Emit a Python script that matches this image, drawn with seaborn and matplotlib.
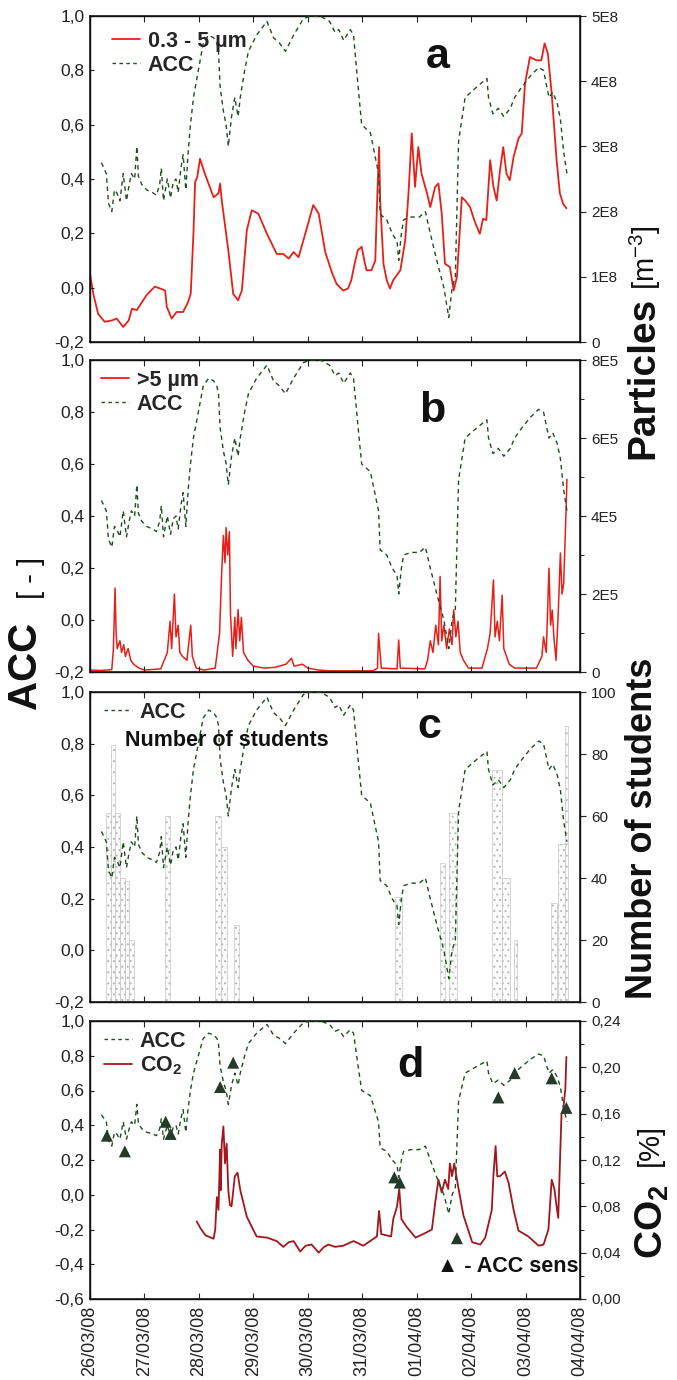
import numpy as np
import pandas as pd
import matplotlib
matplotlib.use("Agg")
import matplotlib.pyplot as plt
from matplotlib.lines import Line2D
from matplotlib.ticker import FixedLocator, FuncFormatter, MultipleLocator
import seaborn as sns

# ---------------- data (x in days since 26/03/08 00:00) ----------------
date_labels = ["26/03/08", "27/03/08", "28/03/08", "29/03/08", "30/03/08",
               "31/03/08", "01/04/08", "02/04/08", "03/04/08", "04/04/08"]

acc_day = [0.21, 0.30, 0.34, 0.40, 0.45, 0.49, 0.55, 0.61, 0.67, 0.72, 0.76, 0.82, 0.86, 0.89,
           0.95, 1.04, 1.15, 1.22, 1.28, 1.31, 1.35, 1.42, 1.48, 1.53, 1.58, 1.62, 1.67, 1.71,
           1.76, 1.80, 1.84, 1.90, 1.99, 2.08, 2.18, 2.27, 2.33, 2.36, 2.39, 2.45, 2.50, 2.54,
           2.60, 2.66, 2.72, 2.76, 2.84, 2.91, 3.06, 3.25, 3.37, 3.48, 3.59, 3.74, 3.92, 4.05,
           4.23, 4.40, 4.50, 4.57, 4.66, 4.72, 4.78, 4.84, 4.92, 4.99, 5.15, 5.24, 5.30, 5.33,
           5.45, 5.55, 5.64, 5.67, 5.72, 5.76, 5.90, 6.05, 6.16, 6.25, 6.37, 6.50, 6.59, 6.65,
           6.71, 6.77, 6.89, 7.00, 7.11, 7.29, 7.32, 7.40, 7.50, 7.60, 7.72, 7.80, 7.90, 8.09,
           8.24, 8.33, 8.43, 8.50, 8.58, 8.64, 8.70, 8.76]
acc_val = [0.46, 0.42, 0.31, 0.28, 0.36, 0.35, 0.32, 0.42, 0.32, 0.38, 0.42, 0.40, 0.52, 0.41,
           0.38, 0.36, 0.35, 0.34, 0.38, 0.44, 0.32, 0.40, 0.33, 0.39, 0.40, 0.35, 0.44, 0.49,
           0.36, 0.49, 0.59, 0.70, 0.80, 0.90, 0.93, 0.92, 0.90, 0.87, 0.74, 0.65, 0.60, 0.52,
           0.63, 0.70, 0.63, 0.70, 0.80, 0.87, 0.93, 0.98, 0.92, 0.90, 0.87, 0.93, 0.99, 1.00,
           1.00, 0.98, 0.94, 0.95, 0.91, 0.93, 0.95, 0.93, 0.75, 0.60, 0.57, 0.48, 0.42, 0.27,
           0.25, 0.20, 0.17, 0.10, 0.20, 0.25, 0.26, 0.26, 0.28, 0.20, 0.10, 0.00, -0.11, 0.00,
           0.04, 0.54, 0.70, 0.72, 0.74, 0.77, 0.70, 0.64, 0.66, 0.63, 0.66, 0.70, 0.73, 0.78,
           0.81, 0.80, 0.70, 0.72, 0.68, 0.62, 0.50, 0.42]

# particles 0.3 - 5 um  [1E8 m^-3]
pm_fine_day = [0.00, 0.06, 0.15, 0.27, 0.40, 0.49, 0.61, 0.71, 0.77, 0.86, 1.04, 1.19, 1.29, 1.38,
               1.41, 1.50, 1.59, 1.71, 1.80, 1.85, 1.90, 1.93, 1.97, 2.02, 2.11, 2.27, 2.36, 2.39,
               2.42, 2.54, 2.63, 2.72, 2.79, 2.88, 2.97, 3.09, 3.25, 3.43, 3.55, 3.65, 3.74, 3.83,
               3.92, 4.10, 4.20, 4.32, 4.45, 4.53, 4.65, 4.74, 4.80, 4.86, 4.92, 4.99, 5.05, 5.08,
               5.17, 5.24, 5.27, 5.31, 5.33, 5.39, 5.45, 5.51, 5.57, 5.70, 5.79, 5.85, 5.91, 5.97,
               6.03, 6.09, 6.19, 6.25, 6.34, 6.40, 6.46, 6.52, 6.61, 6.68, 6.74, 6.83, 6.89, 6.98,
               7.07, 7.16, 7.22, 7.28, 7.35, 7.41, 7.47, 7.53, 7.59, 7.65, 7.71, 7.78, 7.87, 7.93,
               7.99, 8.08, 8.20, 8.29, 8.35, 8.41, 8.48, 8.57, 8.63, 8.69, 8.75]
pm_fine_val = [1.05, 0.74, 0.43, 0.31, 0.33, 0.36, 0.23, 0.33, 0.51, 0.49, 0.72, 0.85, 0.82, 0.79,
               0.54, 0.36, 0.46, 0.46, 0.61, 0.74, 1.66, 2.45, 2.53, 2.81, 2.58, 2.22, 2.28, 2.43,
               2.17, 1.41, 0.74, 0.64, 0.79, 1.71, 2.02, 1.97, 1.66, 1.35, 1.35, 1.28, 1.38, 1.30,
               1.56, 2.10, 1.97, 1.38, 1.05, 0.89, 0.79, 0.82, 0.95, 1.20, 1.41, 1.46, 1.20, 1.10,
               1.10, 1.25, 2.07, 2.99, 2.17, 1.20, 0.95, 0.82, 0.95, 1.10, 1.56, 2.28, 3.20, 2.38,
               2.99, 2.58, 2.28, 2.07, 2.38, 2.43, 1.97, 1.20, 1.15, 0.79, 1.00, 2.22, 2.17, 2.07,
               1.84, 1.66, 1.89, 1.87, 2.79, 2.38, 2.17, 2.63, 2.99, 2.58, 2.48, 2.84, 3.12, 3.20,
               3.96, 4.37, 4.32, 4.32, 4.58, 4.42, 3.81, 2.79, 2.28, 2.12, 2.05]

# particles > 5 um  [1E5 m^-3]
pm_coarse_day = [0.00, 0.20, 0.40, 0.43, 0.46, 0.48, 0.50, 0.55, 0.58, 0.62, 0.65, 0.70, 0.75, 0.80,
                 0.90, 1.00, 1.30, 1.42, 1.47, 1.50, 1.55, 1.58, 1.62, 1.65, 1.70, 1.78, 1.85, 1.88,
                 1.95, 2.10, 2.30, 2.38, 2.42, 2.45, 2.48, 2.50, 2.53, 2.56, 2.58, 2.62, 2.66, 2.68,
                 2.72, 2.75, 2.78, 2.82, 2.90, 3.00, 3.20, 3.40, 3.60, 3.70, 3.75, 3.90, 4.00, 4.20,
                 4.40, 5.20, 5.28, 5.30, 5.35, 5.64, 5.67, 5.70, 6.15, 6.20, 6.25, 6.30, 6.35, 6.40,
                 6.43, 6.46, 6.50, 6.55, 6.60, 6.65, 6.68, 6.72, 6.76, 6.80, 6.86, 6.95, 7.20, 7.30,
                 7.35, 7.41, 7.44, 7.48, 7.52, 7.57, 7.60, 7.65, 7.70, 7.80, 8.20, 8.30, 8.33, 8.38,
                 8.43, 8.46, 8.49, 8.52, 8.56, 8.60, 8.64, 8.67, 8.70, 8.73, 8.76]
pm_coarse_val = [0.05, 0.04, 0.06, 0.60, 2.15, 1.00, 0.60, 0.80, 0.50, 0.70, 0.40, 0.60, 0.30, 0.20,
                 0.10, 0.05, 0.08, 0.50, 1.30, 0.60, 2.00, 0.90, 1.20, 0.50, 0.40, 0.30, 1.20, 0.40,
                 0.10, 0.05, 0.10, 1.00, 2.60, 3.50, 2.80, 3.70, 3.00, 3.60, 1.50, 0.40, 1.40, 0.60,
                 1.60, 0.80, 1.40, 0.50, 0.30, 0.15, 0.10, 0.12, 0.20, 0.35, 0.15, 0.20, 0.10, 0.05,
                 0.03, 0.03, 0.10, 0.99, 0.10, 0.08, 0.82, 0.10, 0.08, 0.30, 0.80, 0.50, 1.20, 0.70,
                 2.45, 0.80, 1.20, 0.60, 1.10, 0.70, 1.59, 0.90, 1.30, 0.50, 0.30, 0.10, 0.10, 0.60,
                 1.00, 2.36, 0.90, 1.30, 0.80, 1.97, 0.60, 0.40, 0.20, 0.10, 0.10, 0.40, 0.90, 0.50,
                 2.66, 1.20, 1.59, 0.90, 0.30, 1.50, 3.05, 2.00, 2.27, 3.50, 4.94]

# number of students (class periods)
class_start = [0.30, 0.39, 0.46, 0.55, 0.65, 0.72, 1.38, 2.30, 2.40, 2.64, 5.61, 6.43, 6.59,
               7.38, 7.57, 7.78, 8.46, 8.59, 8.72]
class_end = [0.39, 0.46, 0.55, 0.65, 0.72, 0.80, 1.47, 2.40, 2.52, 2.73, 5.73, 6.52, 6.74,
             7.57, 7.72, 7.84, 8.58, 8.72, 8.78]
students = [61, 83, 61, 40, 39, 20, 60, 60, 50, 25, 34, 45, 61, 75, 40, 20, 32, 51, 89]

# CO2 [%]
co2_day = [1.96, 2.03, 2.12, 2.27, 2.30, 2.33, 2.36, 2.39, 2.40, 2.42, 2.45, 2.48, 2.51, 2.54,
           2.57, 2.60, 2.66, 2.71, 2.76, 2.88, 3.06, 3.25, 3.43, 3.55, 3.65, 3.74, 3.86, 3.96,
           4.07, 4.20, 4.30, 4.38, 4.50, 4.65, 4.84, 5.02, 5.27, 5.31, 5.35, 5.53, 5.57, 5.64,
           5.68, 5.72, 5.82, 5.98, 6.16, 6.28, 6.34, 6.40, 6.46, 6.52, 6.58, 6.61, 6.65, 6.69,
           6.77, 6.86, 7.02, 7.17, 7.26, 7.38, 7.41, 7.45, 7.48, 7.53, 7.62, 7.69, 7.78, 7.87,
           8.05, 8.24, 8.33, 8.42, 8.48, 8.53, 8.57, 8.60, 8.66, 8.69, 8.73, 8.75]
co2_val = [0.067, 0.061, 0.055, 0.052, 0.060, 0.088, 0.077, 0.129, 0.094, 0.134, 0.149, 0.117,
           0.134, 0.094, 0.081, 0.080, 0.106, 0.109, 0.094, 0.071, 0.054, 0.053, 0.050, 0.045,
           0.049, 0.050, 0.041, 0.046, 0.047, 0.040, 0.045, 0.047, 0.045, 0.046, 0.050, 0.046,
           0.054, 0.076, 0.056, 0.054, 0.069, 0.080, 0.095, 0.069, 0.062, 0.053, 0.057, 0.060,
           0.083, 0.103, 0.092, 0.103, 0.095, 0.117, 0.106, 0.117, 0.095, 0.072, 0.049, 0.047,
           0.053, 0.077, 0.107, 0.132, 0.106, 0.106, 0.110, 0.100, 0.077, 0.059, 0.054, 0.046,
           0.047, 0.060, 0.103, 0.095, 0.080, 0.070, 0.160, 0.163, 0.181, 0.209]

# ACC from sensors (triangles)
sens_day = [0.31, 0.64, 1.39, 1.48, 2.39, 2.63, 5.59, 5.69, 6.74, 7.50, 7.80, 8.48, 8.75]
sens_val = [0.34, 0.25, 0.42, 0.35, 0.62, 0.76, 0.10, 0.07, -0.25, 0.56, 0.70, 0.67, 0.50]

# ---------------- style ----------------
sns.set_theme(style="white")
plt.rcParams["font.family"] = ["Liberation Sans", "DejaVu Sans"]
plt.rcParams["mathtext.default"] = "regular"
plt.rcParams["hatch.linewidth"] = 0.7

W, H = 677, 1380
fig = plt.figure(figsize=(W / 100, H / 100), dpi=100)

ACC_C = "#1f4f1f"
RED = "#e62018"
CO2_C = "#a3161b"
ACC_DASH = (0, (3.2, 2.8))

def fx(px):
    return px / W

def fy(py):
    return 1 - py / H

L, R = 90, 580
panels = {"a": (16, 342), "b": (360, 672), "c": (692, 1002), "d": (1021, 1299)}

def comma(fmt):
    return FuncFormatter(lambda v, p: format(v, fmt).replace(".", ",").replace("\u2212", "-"))

def make_axes(key, ylim, yticks):
    top, bot = panels[key]
    ax = fig.add_axes([fx(L), fy(bot), fx(R - L), (bot - top) / H])
    ax.set_xlim(0, 9)
    ax.set_ylim(*ylim)
    ax.yaxis.set_major_locator(FixedLocator(yticks))
    ax.yaxis.set_major_formatter(comma(".1f"))
    ax.xaxis.set_major_locator(FixedLocator(range(10)))
    ax.tick_params(axis="y", labelsize=12.5, direction="in", length=3, width=0.8, pad=4,
                   left=True, colors="#222222")
    ax.tick_params(axis="x", direction="in", length=4, width=0.8, top=True, bottom=True)
    for s in ax.spines.values():
        s.set_color("#111111")
        s.set_linewidth(1.0)
    ax.set_xlabel("")
    ax.set_ylabel("")
    return ax

def add_twin(ax, ylim, yticks, fmt):
    tw = ax.twinx()
    tw.set_ylim(*ylim)
    tw.yaxis.set_major_locator(FixedLocator(yticks))
    tw.yaxis.set_major_formatter(fmt)
    tw.tick_params(axis="y", labelsize=11, direction="out", length=4, width=0.8, pad=4,
                   colors="#222222")
    tw.set_ylabel("")
    return tw

def draw_acc(ax):
    sns.lineplot(x=acc_day, y=acc_val, ax=ax, color=ACC_C, lw=1.0, linestyle=ACC_DASH,
                 estimator=None, sort=False, legend=False, zorder=4)

leg_font = {"weight": "bold", "size": 15.5}

def put_legend(ax, handles, labels, x, y):
    lg = ax.legend(handles, labels, loc="upper left", bbox_to_anchor=(fx(x), fy(y)),
                   bbox_transform=fig.transFigure, frameon=False, prop=leg_font,
                   handlelength=1.3, handletextpad=0.35, labelspacing=0.12,
                   borderpad=0, borderaxespad=0)
    return lg

acc_handle = Line2D([], [], color=ACC_C, lw=1.0, linestyle=(0, (2.5, 2.5)))

# ---------------- panel a ----------------
ax_a = make_axes("a", (-0.2, 1.0), np.arange(-0.2, 1.01, 0.2))
ax_a.tick_params(axis="x", labelbottom=False)
tw_a = add_twin(ax_a, (0, 5), [0, 1, 2, 3, 4, 5],
                FuncFormatter(lambda v, p: "0" if v == 0 else f"{int(round(v))}E8"))
sns.lineplot(x=pm_fine_day, y=pm_fine_val, ax=tw_a, color=RED, lw=1.3,
             estimator=None, sort=False, legend=False)
draw_acc(ax_a)
ax_a.set_zorder(tw_a.get_zorder() + 1)
ax_a.patch.set_visible(False)
put_legend(ax_a, [Line2D([], [], color=RED, lw=1.3), acc_handle],
           ["0.3 - 5 \u00b5m", "ACC"], 112, 31)

# ---------------- panel b ----------------
ax_b = make_axes("b", (-0.2, 1.0), np.arange(-0.2, 1.01, 0.2))
ax_b.tick_params(axis="x", labelbottom=False)
tw_b = add_twin(ax_b, (0, 8), [0, 2, 4, 6, 8],
                FuncFormatter(lambda v, p: "0" if v == 0 else f"{int(round(v))}E5"))
tw_b.yaxis.set_minor_locator(MultipleLocator(1))
tw_b.tick_params(axis="y", which="minor", direction="out", length=3, width=0.7)
sns.lineplot(x=pm_coarse_day, y=pm_coarse_val, ax=tw_b, color=RED, lw=1.1,
             estimator=None, sort=False, legend=False)
draw_acc(ax_b)
ax_b.set_zorder(tw_b.get_zorder() + 1)
ax_b.patch.set_visible(False)
put_legend(ax_b, [Line2D([], [], color=RED, lw=1.3), acc_handle],
           [">5 \u00b5m", "ACC"], 101, 370)

# ---------------- panel c ----------------
ax_c = make_axes("c", (-0.2, 1.0), np.arange(-0.2, 1.01, 0.2))
ax_c.tick_params(axis="x", labelbottom=False)
tw_c = add_twin(ax_c, (0, 100), [0, 20, 40, 60, 80, 100],
                FuncFormatter(lambda v, p: f"{int(round(v))}"))
widths = [e - s for s, e in zip(class_start, class_end)]
tw_c.bar(class_start, students, width=widths, align="edge", facecolor="#fbfbfb",
         edgecolor="#b8b8b8", hatch="...", linewidth=0.4)
draw_acc(ax_c)
ax_c.set_zorder(tw_c.get_zorder() + 1)
ax_c.patch.set_visible(False)
put_legend(ax_c, [Line2D([], [], color=ACC_C, lw=1.0, linestyle=(0, (2.5, 2.5)))],
           ["ACC"], 104, 702)
fig.text(fx(125), fy(740), "Number of students", ha="left", va="center",
         fontsize=15.5, fontweight="bold", color="#111111")

# ---------------- panel d ----------------
ax_d = make_axes("d", (-0.6, 1.0), np.arange(-0.6, 1.01, 0.2))
tw_d = add_twin(ax_d, (0, 0.24), [0, 0.04, 0.08, 0.12, 0.16, 0.20, 0.24], comma(".2f"))
tw_d.yaxis.set_minor_locator(MultipleLocator(0.02))
tw_d.tick_params(axis="y", which="minor", direction="out", length=3, width=0.7)
sns.lineplot(x=co2_day, y=co2_val, ax=tw_d, color=CO2_C, lw=1.3,
             estimator=None, sort=False, legend=False)
draw_acc(ax_d)
sns.scatterplot(x=sens_day, y=sens_val, ax=ax_d, marker="^", s=75, color="#263a2c",
                edgecolor="none", legend=False, zorder=6)
ax_d.set_zorder(tw_d.get_zorder() + 1)
ax_d.patch.set_visible(False)
ax_d.set_xticks(range(10))
ax_d.set_xticklabels(date_labels, rotation=90, fontsize=13, color="#222222")
ax_d.tick_params(axis="x", labelbottom=True, pad=5)
put_legend(ax_d, [acc_handle, Line2D([], [], color=CO2_C, lw=1.3)],
           ["ACC", "CO$_2$"], 104, 1031)
fig.text(fx(437), fy(1266), "\u25b2 - ACC sens", ha="left", va="center",
         fontsize=15.5, fontweight="bold", color="#111111",
         family=["Liberation Sans", "DejaVu Sans"])

# panel letters
for letter, (px, py) in {"a": (438, 68), "b": (432, 422), "c": (429, 738), "d": (410, 1077)}.items():
    fig.text(fx(px), fy(py), letter, ha="center", va="baseline", fontsize=31,
             fontweight="bold", color="#111111")

# ---------------- axis titles ----------------
fig.text(fx(25), fy(665), "ACC", rotation=90, ha="center", va="center",
         fontsize=29, fontweight="bold", color="#111111")
fig.text(fx(31), fy(578), "[ - ]", rotation=90, ha="center", va="center",
         fontsize=21, color="#111111")
fig.text(fx(643), fy(378), "Particles", rotation=90, ha="center", va="center",
         fontsize=28, fontweight="bold", color="#111111")
fig.text(fx(645), fy(258), "[m$^{-3}$]", rotation=90, ha="center", va="center",
         fontsize=21, color="#111111")
fig.text(fx(643), fy(828), "Number of students", rotation=90, ha="center", va="center",
         fontsize=26, fontweight="bold", color="#111111")
fig.text(fx(652), fy(1222), "CO$_2$", rotation=90, ha="center", va="center",
         fontsize=28, fontweight="bold", color="#111111")
fig.text(fx(650), fy(1145), "[%]", rotation=90, ha="center", va="center",
         fontsize=21, color="#111111")

fig.savefig("out.png", dpi=100, facecolor="white")
